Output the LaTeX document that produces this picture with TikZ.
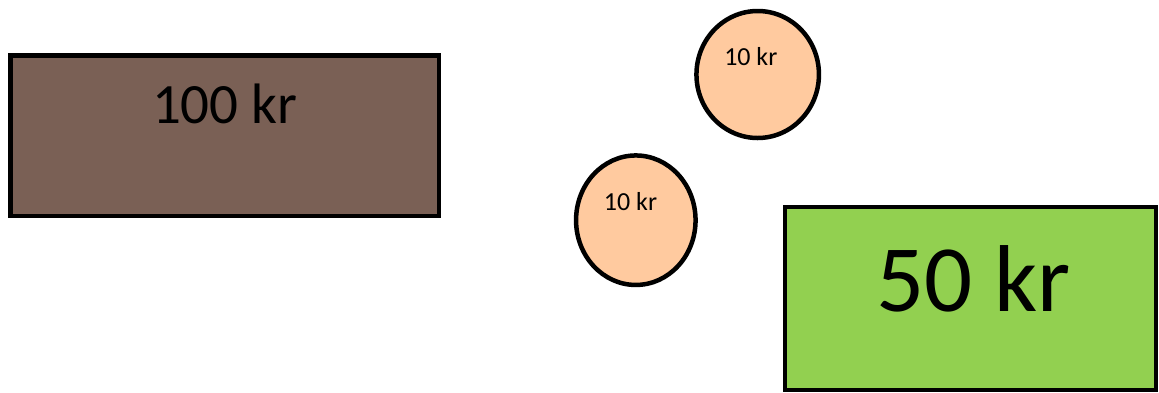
\documentclass[tikz,border=0pt]{standalone}
\usepackage{fontspec}
\setmainfont{Carlito}
\usetikzlibrary{shapes.geometric}
\definecolor{brownfill}{HTML}{7A6055}
\definecolor{greenfill}{HTML}{92D050}
\definecolor{peachfill}{HTML}{FFCA9F}
\tikzset{
  box/.style={draw=black, line width=4.5pt, rectangle, inner sep=0pt},
  coin/.style={draw=black, line width=4.5pt, ellipse, inner sep=0pt, fill=peachfill},
  lbl/.style={anchor=base, inner sep=0pt, text=black}
}
\begin{document}
\begin{tikzpicture}[x=1pt,y=-1pt]
\useasboundingbox (0,0) rectangle (1159,392);
\node[box, fill=brownfill, minimum width=428.5pt, minimum height=160.5pt] (hundred) at (224.75,135.75) {};
\node[lbl, font=\fontsize{57}{64}\selectfont] (hundredtxt) at (224.7,123.3) {100 kr};
\node[box, fill=greenfill, minimum width=371pt, minimum height=183pt] (fifty) at (970.5,298.5) {};
\node[lbl, font=\fontsize{95}{110}\selectfont] (fiftytxt) at (973.3,311.7) {50 kr};
\node[coin, minimum width=122.5pt, minimum height=127pt] (coinA) at (757.7,74.5) {};
\node[lbl, font=\fontsize{26}{30}\selectfont] (coinAtxt) at (750.8,65.7) {10 kr};
\node[coin, minimum width=119.5pt, minimum height=129.5pt] (coinB) at (635.8,220.2) {};
\node[lbl, font=\fontsize{26}{30}\selectfont] (coinBtxt) at (630.5,210.7) {10 kr};
\end{tikzpicture}
\end{document}
